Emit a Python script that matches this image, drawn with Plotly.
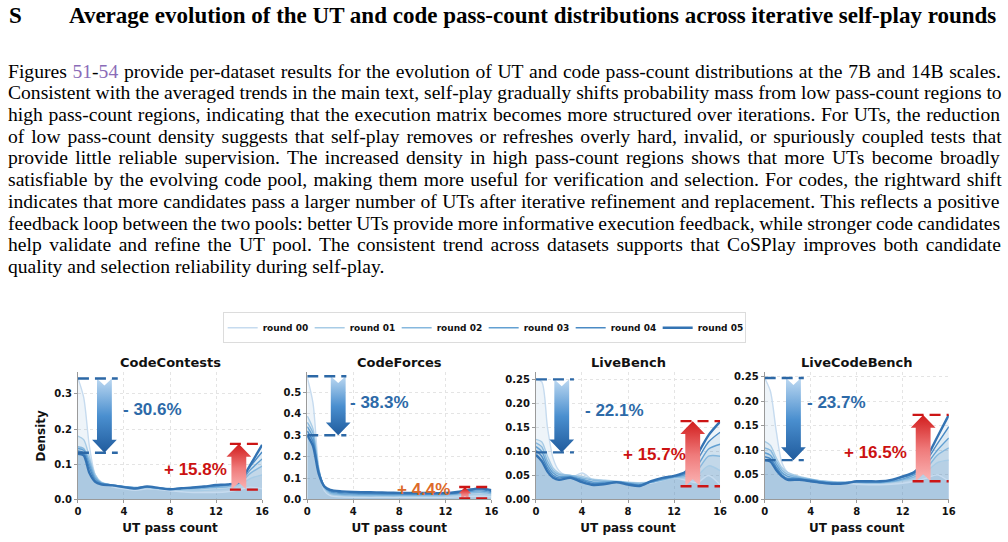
import re
import plotly.graph_objects as go

W, H = 1008, 542

# ---------------- data ----------------
datasets = ["CodeContests", "CodeForces", "LiveBench", "LiveCodeBench"]
rounds = ["round 00", "round 01", "round 02", "round 03", "round 04", "round 05"]
x_pass = [0, 0.5, 1, 1.5, 2, 3, 4, 5, 6, 7, 8, 9, 10, 11, 12, 13, 14, 15, 16]

cc_density = [
    [0.345, 0.29, 0.15, 0.07, 0.048, 0.036, 0.030, 0.026, 0.030, 0.028, 0.025, 0.022, 0.020, 0.020, 0.020, 0.022, 0.028, 0.035, 0.030],
    [0.180, 0.17, 0.12, 0.07, 0.050, 0.040, 0.035, 0.030, 0.033, 0.030, 0.028, 0.026, 0.025, 0.026, 0.028, 0.030, 0.040, 0.060, 0.070],
    [0.150, 0.145, 0.11, 0.065, 0.048, 0.040, 0.036, 0.033, 0.035, 0.032, 0.030, 0.030, 0.030, 0.032, 0.034, 0.036, 0.045, 0.075, 0.095],
    [0.145, 0.14, 0.10, 0.06, 0.047, 0.041, 0.037, 0.034, 0.036, 0.033, 0.031, 0.032, 0.033, 0.035, 0.037, 0.040, 0.048, 0.085, 0.115],
    [0.138, 0.133, 0.09, 0.055, 0.045, 0.040, 0.036, 0.033, 0.036, 0.032, 0.030, 0.032, 0.034, 0.037, 0.040, 0.042, 0.050, 0.095, 0.135],
    [0.130, 0.125, 0.075, 0.05, 0.043, 0.040, 0.035, 0.031, 0.037, 0.033, 0.029, 0.032, 0.034, 0.037, 0.041, 0.043, 0.050, 0.100, 0.155],
]
cf_density = [
    [0.570, 0.45, 0.15, 0.04, 0.018, 0.012, 0.010, 0.010, 0.010, 0.010, 0.010, 0.010, 0.010, 0.010, 0.010, 0.012, 0.014, 0.015, 0.012],
    [0.390, 0.33, 0.14, 0.05, 0.025, 0.018, 0.016, 0.015, 0.015, 0.015, 0.015, 0.015, 0.015, 0.015, 0.016, 0.018, 0.022, 0.025, 0.020],
    [0.360, 0.31, 0.14, 0.055, 0.030, 0.022, 0.020, 0.019, 0.019, 0.019, 0.019, 0.020, 0.020, 0.020, 0.021, 0.024, 0.030, 0.034, 0.027],
    [0.340, 0.29, 0.135, 0.06, 0.035, 0.027, 0.025, 0.024, 0.024, 0.023, 0.023, 0.023, 0.024, 0.024, 0.025, 0.028, 0.036, 0.040, 0.032],
    [0.320, 0.27, 0.13, 0.062, 0.040, 0.032, 0.030, 0.029, 0.028, 0.027, 0.027, 0.027, 0.027, 0.027, 0.027, 0.030, 0.040, 0.046, 0.037],
    [0.300, 0.25, 0.12, 0.06, 0.045, 0.038, 0.035, 0.034, 0.033, 0.032, 0.031, 0.030, 0.030, 0.030, 0.030, 0.035, 0.045, 0.052, 0.043],
]
lb_density = [
    [0.250, 0.245, 0.15, 0.085, 0.060, 0.045, 0.055, 0.040, 0.035, 0.035, 0.033, 0.034, 0.034, 0.040, 0.045, 0.040, 0.035, 0.050, 0.030],
    [0.125, 0.12, 0.09, 0.065, 0.055, 0.050, 0.048, 0.042, 0.040, 0.038, 0.036, 0.035, 0.036, 0.040, 0.045, 0.045, 0.050, 0.070, 0.060],
    [0.118, 0.11, 0.08, 0.06, 0.052, 0.050, 0.045, 0.040, 0.038, 0.037, 0.035, 0.033, 0.036, 0.041, 0.046, 0.048, 0.060, 0.090, 0.090],
    [0.110, 0.10, 0.072, 0.055, 0.048, 0.048, 0.042, 0.036, 0.036, 0.037, 0.034, 0.031, 0.036, 0.042, 0.047, 0.052, 0.070, 0.105, 0.115],
    [0.102, 0.09, 0.065, 0.05, 0.045, 0.047, 0.040, 0.033, 0.034, 0.036, 0.033, 0.030, 0.037, 0.044, 0.048, 0.055, 0.082, 0.120, 0.140],
    [0.093, 0.08, 0.058, 0.045, 0.041, 0.045, 0.036, 0.030, 0.032, 0.036, 0.031, 0.028, 0.038, 0.045, 0.049, 0.058, 0.093, 0.134, 0.162],
]
lcb_density = [
    [0.247, 0.22, 0.14, 0.075, 0.055, 0.045, 0.040, 0.036, 0.034, 0.033, 0.031, 0.030, 0.030, 0.031, 0.033, 0.037, 0.043, 0.050, 0.037],
    [0.118, 0.11, 0.085, 0.065, 0.055, 0.047, 0.042, 0.038, 0.036, 0.035, 0.034, 0.033, 0.033, 0.035, 0.038, 0.043, 0.055, 0.075, 0.080],
    [0.105, 0.10, 0.078, 0.06, 0.051, 0.045, 0.041, 0.037, 0.035, 0.035, 0.035, 0.034, 0.034, 0.036, 0.040, 0.046, 0.062, 0.090, 0.105],
    [0.095, 0.09, 0.072, 0.055, 0.047, 0.043, 0.040, 0.036, 0.034, 0.034, 0.036, 0.035, 0.035, 0.037, 0.042, 0.050, 0.070, 0.100, 0.125],
    [0.087, 0.083, 0.066, 0.05, 0.043, 0.042, 0.038, 0.035, 0.033, 0.034, 0.036, 0.036, 0.036, 0.039, 0.045, 0.053, 0.077, 0.113, 0.148],
    [0.080, 0.077, 0.06, 0.047, 0.040, 0.040, 0.037, 0.034, 0.032, 0.033, 0.037, 0.037, 0.037, 0.040, 0.047, 0.056, 0.083, 0.127, 0.172],
]
densities = [cc_density, cf_density, lb_density, lcb_density]

y_max = [0.362, 0.595, 0.265, 0.259]
y_ticks = [[0, 0.1, 0.2, 0.3], [0, 0.1, 0.2, 0.3, 0.4, 0.5],
           [0, 0.05, 0.10, 0.15, 0.20, 0.25], [0, 0.05, 0.10, 0.15, 0.20, 0.25]]
y_tick_text = [["0.0", "0.1", "0.2", "0.3"], ["0.0", "0.1", "0.2", "0.3", "0.4", "0.5"],
               ["0.00", "0.05", "0.10", "0.15", "0.20", "0.25"], ["0.00", "0.05", "0.10", "0.15", "0.20", "0.25"]]
x_ticks = [0, 4, 8, 12, 16]

# annotation values (decrease at low pass count, increase at high pass count)
drop_top = [0.344, 0.576, 0.250, 0.247]
drop_bottom = [0.133, 0.300, 0.098, 0.080]
drop_x = [2.3, 2.69, 2.24, 2.5]
drop_dash_end = [3.46, 3.4, 3.3, 3.4]
drop_label = ["- 30.6%", "- 38.3%", "- 22.1%", "- 23.7%"]
drop_label_pos = [(6.5, 0.257), (6.27, 0.453), (6.8, 0.186), (6.2, 0.198)]

rise_bottom = [0.028, 0.005, 0.0275, 0.037]
rise_top = [0.158, 0.058, 0.163, 0.172]
rise_x = [13.98, 13.7, 13.62, 13.77]
rise_dash_start = [13.2, 13.2, 12.56, 12.85]
rise_label = ["+ 15.8%", "+ 4.4%", "+ 15.7%", "+ 16.5%"]
rise_label_pos = [(10.2, 0.084), (10.1, 0.046), (10.27, 0.093), (9.6, 0.096)]
rise_label_color = ["#cc1111", "#dd6a2a", "#cc1111", "#cc1111"]

round_colors = ["#c6dbef", "#a8cce6", "#86b8de", "#62a0d2", "#4a8ac4", "#3373b3"]
round_widths = [1.4, 1.4, 1.4, 1.4, 1.4, 2.4]

title_S = "S"
title_text = "Average evolution of the UT and code pass-count distributions across iterative self-play rounds"
link_color = "#8a6cb8"
paragraph = [
    "Figures <span style='color:%s'>51</span>-<span style='color:%s'>54</span> provide per-dataset results for the evolution of UT and code pass-count distributions at the 7B and 14B scales." % (link_color, link_color),
    "Consistent with the averaged trends in the main text, self-play gradually shifts probability mass from low pass-count regions to",
    "high pass-count regions, indicating that the execution matrix becomes more structured over iterations. For UTs, the reduction",
    "of low pass-count density suggests that self-play removes or refreshes overly hard, invalid, or spuriously coupled tests that",
    "provide little reliable supervision. The increased density in high pass-count regions shows that more UTs become broadly",
    "satisfiable by the evolving code pool, making them more useful for verification and selection. For codes, the rightward shift",
    "indicates that more candidates pass a larger number of UTs after iterative refinement and replacement. This reflects a positive",
    "feedback loop between the two pools: better UTs provide more informative execution feedback, while stronger code candidates",
    "help validate and refine the UT pool. The consistent trend across datasets supports that CoSPlay improves both candidate",
    "quality and selection reliability during self-play.",
]

# ---------------- layout geometry (pixels) ----------------
plot_left_px = [75.7, 307.3, 538.3, 769.3]
plot_w_px = 186.0
plot_top_px, plot_bot_px = 376.0, 505.0
plot_h_px = plot_bot_px - plot_top_px

SANS = "DejaVu Sans"
ARIAL = "Liberation Sans"
SERIF = "Liberation Serif"
PARA_SIZE = 19.6
TEXT_LEFT, TEXT_RIGHT = 6.0, 1000.0

# Times-compatible advance widths (per 1000 em) used to justify the paragraph
_TW = {' ': 250, 'a': 444, 'b': 500, 'c': 444, 'd': 500, 'e': 444, 'f': 333, 'g': 500, 'h': 500, 'i': 278,
       'j': 278, 'k': 500, 'l': 278, 'm': 778, 'n': 500, 'o': 500, 'p': 500, 'q': 500, 'r': 333, 's': 389,
       't': 278, 'u': 500, 'v': 500, 'w': 722, 'x': 500, 'y': 500, 'z': 444, 'A': 722, 'B': 667, 'C': 667,
       'D': 722, 'E': 611, 'F': 556, 'G': 722, 'H': 722, 'I': 333, 'J': 389, 'K': 722, 'L': 611, 'M': 889,
       'N': 722, 'O': 722, 'P': 556, 'Q': 722, 'R': 667, 'S': 556, 'T': 611, 'U': 722, 'V': 722, 'W': 944,
       'X': 722, 'Y': 722, 'Z': 611, '.': 250, ',': 250, ':': 278, ';': 278, '-': 333, '(': 333, ')': 333}


def natural_width(s, size):
    plain = re.sub(r"<[^>]+>", "", s)
    return sum(_TW.get(c, 500) for c in plain) * size / 1000.0


fig = go.Figure()


def arrow_polygon(cx, y_from, y_to, xs, ys):
    """Block arrow from y_from (tail) to y_to (tip); geometry in pixels."""
    L = abs(y_to - y_from) * ys
    k = 0.5 if L < 30 else 1.0
    hw, HW, HL, N = 7.5 * k, 12.5 * k, 13 * k, 7 * k
    HL = min(HL, 0.6 * L)
    N = min(N, 0.2 * L)
    s = 1 if y_to > y_from else -1

    def P(dx, tail=None, tip=None):
        if tail is not None:
            return cx + dx / xs, y_from + s * tail / ys
        return cx + dx / xs, y_to - s * tip / ys
    pts = [P(-hw, 0), P(0, N), P(hw, 0), P(hw, tip=HL), P(HW, tip=HL),
           P(0, tip=0), P(-HW, tip=HL), P(-hw, tip=HL), P(-hw, 0)]
    return [p[0] for p in pts], [p[1] for p in pts]


for i, name in enumerate(datasets):
    ax = "" if i == 0 else str(i + 1)
    xr, yr = "x" + ax, "y" + ax
    xs = plot_w_px / 16.0
    ys = plot_h_px / y_max[i]
    for r in range(6):
        fig.add_trace(go.Scatter(x=x_pass, y=densities[i][r], xaxis=xr, yaxis=yr, mode="lines",
                                 line=dict(width=0, shape="spline", smoothing=0.8),
                                 fill="tozeroy", fillcolor="rgba(70,135,195,0.095)",
                                 showlegend=False, hoverinfo="skip"))
    for r in range(6):
        fig.add_trace(go.Scatter(x=x_pass, y=densities[i][r], xaxis=xr, yaxis=yr, mode="lines",
                                 line=dict(width=round_widths[r], color=round_colors[r], shape="spline", smoothing=0.8),
                                 name=rounds[r], legendgroup=rounds[r], showlegend=(i == 0)))
    ax_, ay_ = arrow_polygon(drop_x[i], drop_top[i], drop_bottom[i], xs, ys)
    fig.add_trace(go.Scatter(x=ax_, y=ay_, xaxis=xr, yaxis=yr, mode="lines", line=dict(width=0),
                             fill="toself",
                             fillgradient=dict(type="vertical", start=drop_bottom[i], stop=drop_top[i],
                                               colorscale=[[0, "#1f5a9c"], [0.5, "#4a8fcf"], [1, "#bcd8f1"]]),
                             showlegend=False, hoverinfo="skip"))
    rx_, ry_ = arrow_polygon(rise_x[i], rise_bottom[i], rise_top[i], xs, ys)
    fig.add_trace(go.Scatter(x=rx_, y=ry_, xaxis=xr, yaxis=yr, mode="lines", line=dict(width=0),
                             fill="toself",
                             fillgradient=dict(type="vertical", start=rise_bottom[i], stop=rise_top[i],
                                               colorscale=[[0, "#fbb8b8"], [0.5, "#ef7a7a"], [1, "#d21e1e"]]),
                             showlegend=False, hoverinfo="skip"))
    for yv in (drop_top[i], drop_bottom[i]):
        fig.add_trace(go.Scatter(x=[0, drop_dash_end[i]], y=[yv, yv], xaxis=xr, yaxis=yr, mode="lines",
                                 line=dict(color="#2c68a6", width=2.4, dash="11px,6px"),
                                 showlegend=False, hoverinfo="skip", cliponaxis=False))
    for yv in (rise_bottom[i], rise_top[i]):
        fig.add_trace(go.Scatter(x=[rise_dash_start[i], 16], y=[yv, yv], xaxis=xr, yaxis=yr, mode="lines",
                                 line=dict(color="#cc1515", width=2.4, dash="11px,6px"),
                                 showlegend=False, hoverinfo="skip", cliponaxis=False))
    fig.add_annotation(x=drop_label_pos[i][0], y=drop_label_pos[i][1], xref=xr, yref=yr,
                       text=drop_label[i], showarrow=False,
                       font=dict(family=ARIAL, size=17, color="#2d6aa8", weight="bold"))
    fig.add_annotation(x=rise_label_pos[i][0], y=rise_label_pos[i][1], xref=xr, yref=yr,
                       text=rise_label[i], showarrow=False,
                       font=dict(family=ARIAL, size=17, color=rise_label_color[i], weight="bold"))
    cxp = (plot_left_px[i] + plot_w_px / 2) / W
    fig.add_annotation(x=cxp, y=1 - 366 / H, xref="paper", yref="paper", text=name, showarrow=False,
                       font=dict(family=SANS, size=13, color="#111", weight="bold"),
                       xanchor="center", yanchor="middle")

    axis_common = dict(showline=True, linecolor="#9a9a9a", linewidth=1, ticks="outside", ticklen=3,
                       tickcolor="#9a9a9a", showgrid=True, gridcolor="#e4e4e4", griddash="dot",
                       zeroline=False, tickfont=dict(family=SANS, size=10, color="#111", weight="bold"))
    fig.update_layout(**{
        "xaxis" + ax: dict(domain=[plot_left_px[i] / W, (plot_left_px[i] + plot_w_px) / W],
                           range=[0, 16], tickvals=x_ticks, anchor=yr,
                           title=dict(text="UT pass count", standoff=7,
                                      font=dict(family=SANS, size=12, color="#111", weight="bold")),
                           **axis_common),
        "yaxis" + ax: dict(domain=[1 - plot_bot_px / H, 1 - plot_top_px / H], range=[0, y_max[i]],
                           tickvals=y_ticks[i], ticktext=y_tick_text[i], anchor=xr,
                           title=dict(text="Density" if i == 0 else "", standoff=6,
                                      font=dict(family=SANS, size=12, color="#111", weight="bold")),
                           **axis_common),
    })

# heading and paragraph
fig.add_annotation(x=4 / W, y=1 - 15 / H, xref="paper", yref="paper", text="<b>" + title_S + "</b>",
                   showarrow=False, xanchor="left", yanchor="middle",
                   font=dict(family=SERIF, size=23, color="#000"))
fig.add_annotation(x=65 / W, y=1 - 15 / H, xref="paper", yref="paper", text="<b>" + title_text + "</b>",
                   showarrow=False, xanchor="left", yanchor="middle",
                   font=dict(family=SERIF, size=23, color="#000"))
target = TEXT_RIGHT - TEXT_LEFT
for k, line in enumerate(paragraph):
    text = line
    if k < len(paragraph) - 1:
        n_spaces = re.sub(r"<[^>]+>", "", line).count(" ")
        ws = (target - natural_width(line, PARA_SIZE)) / n_spaces
        text = "<span style='word-spacing:%.2fpx'>%s</span>" % (ws, line)
    fig.add_annotation(x=(TEXT_LEFT - 3) / W, y=1 - (71 + 22 * k) / H, xref="paper", yref="paper", text=text,
                       showarrow=False, xanchor="left", yanchor="middle",
                       font=dict(family=SERIF, size=PARA_SIZE, color="#000"))

fig.update_layout(
    width=W, height=H, margin=dict(l=0, r=0, t=0, b=0),
    paper_bgcolor="white", plot_bgcolor="white",
    legend=dict(orientation="h", x=486 / W, xanchor="center", y=1 - 331 / H, yanchor="middle",
                bordercolor="#dcdcdc", borderwidth=1, bgcolor="white",
                font=dict(family=SANS, size=9, color="#111", weight="bold"),
                itemwidth=30, tracegroupgap=0, entrywidth=42, entrywidthmode="pixels"),
    showlegend=True,
)

fig.write_html("out.html")
